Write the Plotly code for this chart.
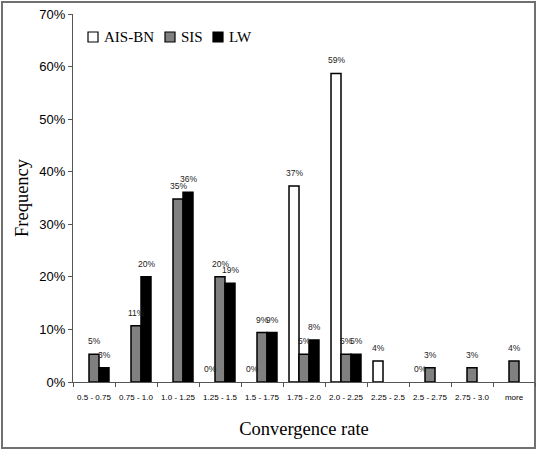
import plotly.graph_objects as go

categories = ['0.5 - 0.75', '0.75 - 1.0', '1.0 - 1.25', '1.25 - 1.5', '1.5 - 1.75',
              '1.75 - 2.0', '2.0 - 2.25', '2.25 - 2.5', '2.5 - 2.75', '2.75 - 3.0', 'more']

ais_bn = [0, 0, 0, 0, 0, 0.373, 0.587, 0.04, 0, 0, 0]
sis = [0.053, 0.107, 0.348, 0.20, 0.094, 0.053, 0.053, 0, 0.027, 0.027, 0.04]
lw = [0.027, 0.20, 0.361, 0.188, 0.094, 0.08, 0.053, 0, 0, 0, 0]

# which bars carry a value label (the original chart skips some zero bars)
ais_bn_lbl = ['', '', '', '0%', '0%', '37%', '59%', '4%', '0%', '', '']
sis_lbl = ['5%', '11%', '35%', '20%', '9%', '5%', '5%', '', '3%', '3%', '4%']
lw_lbl = ['3%', '20%', '36%', '19%', '9%', '8%', '5%', '', '', '', '']

series = [
    ('AIS-BN', ais_bn, ais_bn_lbl, 'white'),
    ('SIS', sis, sis_lbl, '#808080'),
    ('LW', lw, lw_lbl, 'black'),
]

W, H = 538, 452
L, R, T, B = 73, 3, 14, 70
pw, ph = W - L - R, H - T - B


def px(x):
    return (x - L) / pw


def py(y):
    return (H - B - y) / ph


fig = go.Figure()
for name, vals, lbls, col in series:
    # no outline on empty bars so the axis line stays clean
    widths = [1.5 if v else 0 for v in vals]
    fig.add_trace(go.Bar(x=categories, y=vals, name=name, showlegend=False,
                         marker=dict(color=col, line=dict(color='black', width=widths))))

# value labels above each bar
bar_px = 10
for i, (name, vals, lbls, col) in enumerate(series):
    for c, v, t in zip(categories, vals, lbls):
        if t:
            fig.add_annotation(x=c, y=v, text=t, showarrow=False,
                               xshift=(i - 1) * bar_px, yshift=13,
                               font=dict(family='Liberation Sans, Arial', size=8.5, color='#222'))

# legend drawn by hand, Excel style (square right next to text)
legend_x = [88, 165, 213]
for (name, vals, lbls, col), lx in zip(series, legend_x):
    fig.add_shape(type='rect', xref='paper', yref='paper',
                  x0=px(lx), x1=px(lx + 10), y0=py(42), y1=py(32),
                  fillcolor=col, line=dict(color='black', width=1.2))
    fig.add_annotation(xref='paper', yref='paper', x=px(lx + 14), y=py(37),
                       xanchor='left', yanchor='middle', text=name, showarrow=False,
                       font=dict(family='Liberation Serif, Times New Roman', size=15, color='black'))

fig.update_layout(
    template='none',
    width=W, height=H,
    margin=dict(l=L, r=R, t=T, b=B, autoexpand=False),
    paper_bgcolor='white', plot_bgcolor='white',
    barmode='group', bargap=0.286, bargroupgap=0,
    showlegend=False,
)

fig.update_xaxes(
    type='category', tickson='boundaries', ticks='outside', ticklen=4,
    tickcolor='#555', showline=True, linecolor='#555', linewidth=1,
    tickangle=0, automargin=False, ticklabelstandoff=7,
    tickfont=dict(family='Liberation Sans, Arial', size=8, color='black'),
    title=dict(text='Convergence rate', standoff=21,
               font=dict(family='Liberation Serif, Times New Roman', size=18.5, color='black')),
    showgrid=False,
)
fig.update_yaxes(
    range=[0, 0.7], dtick=0.1, tickformat='.0%', ticks='outside', ticklen=4,
    tickcolor='#555', showline=True, linecolor='#555', linewidth=1,
    automargin=False,
    tickfont=dict(family='Liberation Sans, Arial', size=13, color='black'),
    title=dict(text='Frequency', standoff=5,
               font=dict(family='Liberation Serif, Times New Roman', size=18.5, color='black')),
    showgrid=False, zeroline=False,
)

# grey frame round the whole chart
fig.add_shape(type='rect', xref='paper', yref='paper',
              x0=px(2), x1=px(535), y0=py(448), y1=py(2),
              line=dict(color='#707070', width=2), fillcolor='rgba(0,0,0,0)', layer='below')

fig.write_html('out.html', config={'displayModeBar': False},
               post_script="document.body.style.margin='0';document.body.style.overflow='hidden';")
